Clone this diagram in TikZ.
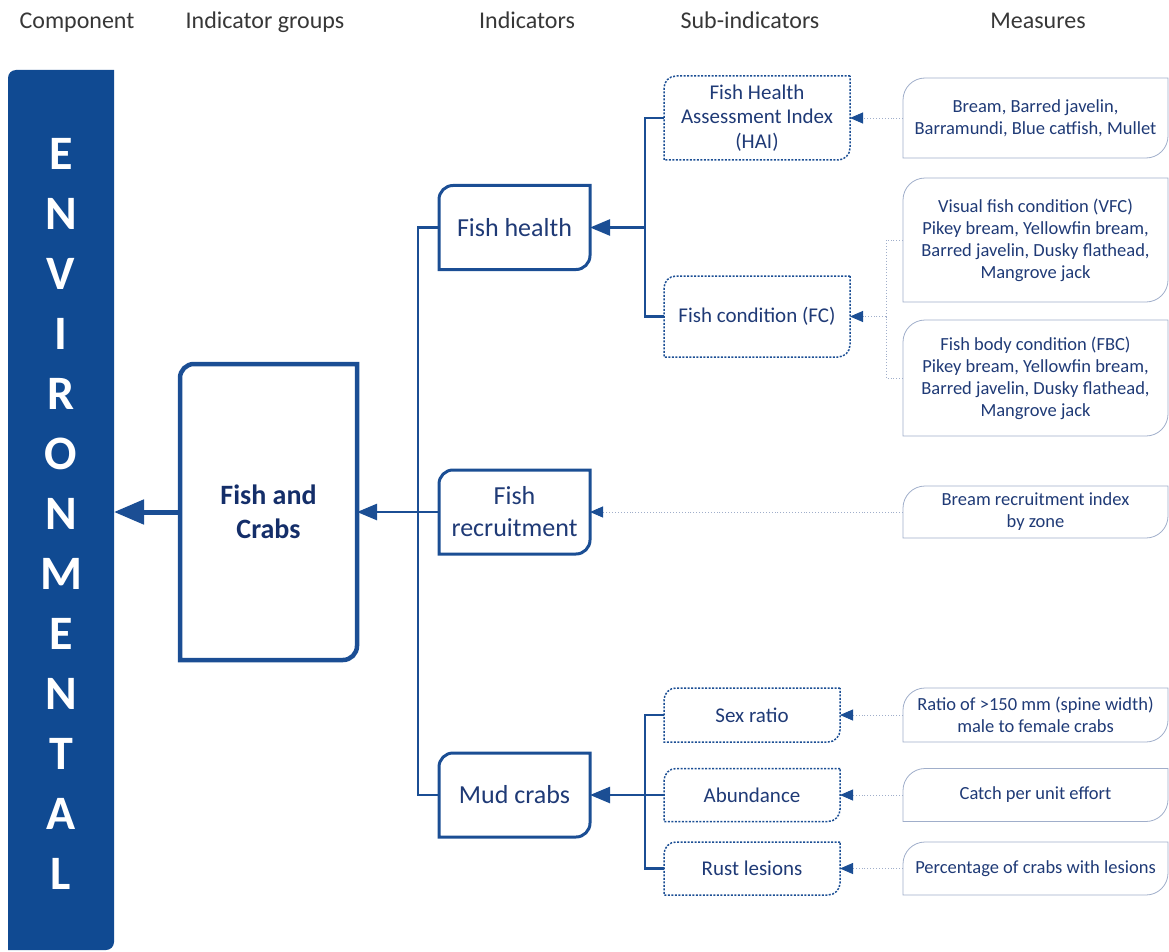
\documentclass[tikz,border=0pt]{standalone}
\usepackage{fontspec}
\setmainfont{Carlito}
\usetikzlibrary{arrows.meta}

\definecolor{envblue}{RGB}{16,74,146}
\definecolor{boxblue}{RGB}{27,78,148}
\definecolor{txtblue}{RGB}{31,58,118}
\definecolor{darkblue}{RGB}{20,46,105}
\definecolor{paleblue}{RGB}{160,174,202}
\definecolor{headgray}{RGB}{55,55,55}

% outline with rounded top-left and bottom-right corners
\newcommand{\cornerbox}[3]{%
  \draw[#1] (#2.north east) -- ([xshift=#3]#2.north west)
    arc[start angle=90, end angle=180, radius=#3] -- (#2.south west)
    -- ([xshift=-#3]#2.south east)
    arc[start angle=270, end angle=360, radius=#3] -- cycle;}

\begin{document}
\begin{tikzpicture}[
        x=1pt, y=-1pt,
        header/.style={text=headgray, anchor=base, font=\fontsize{24}{29}\selectfont},
        envbar/.style={minimum width=106pt, minimum height=880pt, outer sep=0pt},
        envtext/.style={text=white, align=center, font=\bfseries\fontsize{48}{60}\selectfont},
        groupbox/.style={minimum width=177pt, minimum height=296pt, outer sep=0pt, align=center, text=darkblue, font=\bfseries\fontsize{28}{34}\selectfont},
        indbox/.style={minimum width=151pt, minimum height=84pt, outer sep=0pt, align=center, text=txtblue, font=\fontsize{26}{32}\selectfont},
        subbox/.style={outer sep=0pt, align=center, text=txtblue, font=\fontsize{21}{24.5}\selectfont},
        measbox/.style={minimum width=265pt, outer sep=0pt, align=center, text=txtblue, font=\fontsize{18.5}{22}\selectfont},
        envfill/.style={fill=envblue, draw=none},
        groupline/.style={draw=boxblue, line width=4.5pt},
        indline/.style={draw=boxblue, line width=3pt},
        subline/.style={draw=boxblue, line width=1.5pt, dash pattern=on 2pt off 1.5pt},
        measline/.style={draw=paleblue, line width=0.8pt},
        link/.style={boxblue, line width=2.5pt},
        feed/.style={link, -{Triangle[length=20pt, width=16pt]}},
        bigfeed/.style={boxblue, line width=5pt, -{Triangle[length=30pt, width=24pt]}},
        mlink/.style={paleblue, line width=0.9pt, dotted},
        mfeed/.style={mlink, -{Triangle[length=13pt, width=11pt, color=boxblue]}},
    ]
        \useasboundingbox (0,0) rectangle (1169,952);

        % column headers
        \node[header] (hcomp) at (77,29) {Component};
        \node[header] (hgroup) at (265,29) {Indicator groups};
        \node[header] (hind) at (527,29) {Indicators};
        \node[header] (hsub) at (750,29) {Sub-indicators};
        \node[header] (hmeas) at (1038,29) {Measures};

        \node[envbar] (env) at (61,510) {};
        \node[groupbox] (fc) at (268.5,512) {Fish and\\Crabs};

        \node[indbox] (fh) at (514.5,227.5) {Fish health};
        \node[indbox] (fr) at (514.5,512) {Fish\\recruitment};
        \node[indbox] (mc) at (514.5,795) {Mud crabs};

        \node[subbox, minimum width=186pt, minimum height=84pt] (hai) at (757,118) {Fish Health\\Assessment Index\\(HAI)};
        \node[subbox, minimum width=186pt, minimum height=81pt] (fcond) at (757,316.5) {Fish condition (FC)};
        \node[subbox, minimum width=176pt, minimum height=54pt] (sex) at (752,715) {Sex ratio};
        \node[subbox, minimum width=176pt, minimum height=53pt] (abund) at (752,795) {Abundance};
        \node[subbox, minimum width=176pt, minimum height=53pt] (rust) at (752,868.5) {Rust lesions};

        \node[measbox, minimum height=80pt] (m1) at (1035.5,118) {Bream, Barred javelin,\\Barramundi, Blue catfish, Mullet};
        \node[measbox, minimum height=124pt] (m2) at (1035.5,240) {Visual fish condition (VFC)\\Pikey bream, Yellowfin bream,\\Barred javelin, Dusky flathead,\\Mangrove jack};
        \node[measbox, minimum height=116pt] (m3) at (1035.5,378) {Fish body condition (FBC)\\Pikey bream, Yellowfin bream,\\Barred javelin, Dusky flathead,\\Mangrove jack};
        \node[measbox, minimum height=52pt] (m4) at (1035.5,512) {Bream recruitment index\\by zone};
        \node[measbox, minimum height=54pt] (m5) at (1035.5,715) {Ratio of >150 mm (spine width)\\male to female crabs};
        \node[measbox, minimum height=53pt] (m6) at (1035.5,795) {Catch per unit effort};
        \node[measbox, minimum height=53pt] (m7) at (1035.5,868.5) {Percentage of crabs with lesions};

        \coordinate (trunk) at (418,512);
        \coordinate (br1) at (645,227.5);
        \coordinate (br2) at (886,316.5);
        \coordinate (br3) at (645,795);

        % connectors
        \draw[bigfeed] (fc.west) -- (fc.west -| env.east);
        \draw[link] (fh.west) -| (trunk) |- (mc.west);
        \draw[feed] (fr.west) -- (fc.east);

        \draw[link] (hai.west) -| (br1) |- (fcond.west);
        \draw[feed] (br1) -- (fh.east);
        \draw[link] (sex.west) -| (br3) |- (rust.west);
        \draw[link] (abund.west) -- (br3);
        \draw[feed] (br3) -- (mc.east);

        \draw[mfeed] (m1.west) -- (hai.east);
        \draw[mlink] (m2.west) -| (br2) |- (m3.west);
        \draw[mfeed] (br2) -- (fcond.east);
        \draw[mfeed] (m4.west) -- (fr.east);
        \draw[mfeed] (m5.west) -- (sex.east);
        \draw[mfeed] (m6.west) -- (abund.east);
        \draw[mfeed] (m7.west) -- (rust.east);

        % box outlines
        \cornerbox{envfill}{env}{8pt}
        \node[envtext] (envlabel) at (61,514) {E\\N\\V\\I\\R\\O\\N\\M\\E\\N\\T\\A\\L};
        \cornerbox{groupline}{fc}{14pt}
        \foreach \n in {fh, fr, mc} {\cornerbox{indline}{\n}{14pt}}
        \foreach \n in {hai, fcond, sex, abund, rust} {\cornerbox{subline}{\n}{12pt}}
        \foreach \n in {m1, m2, m3, m4, m5, m6, m7} {\cornerbox{measline}{\n}{22pt}}
\end{tikzpicture}
\end{document}
